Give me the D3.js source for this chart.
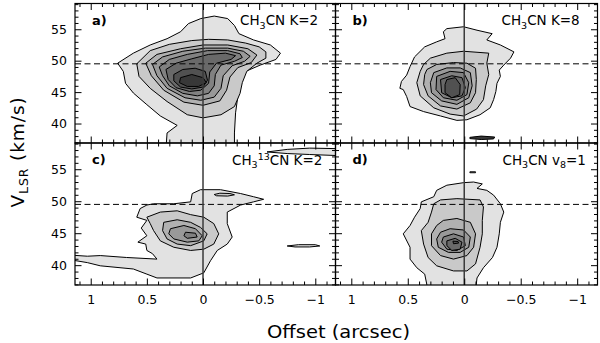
<!DOCTYPE html>
<html>
<head>
<meta charset="utf-8">
<script src="https://cdn.jsdelivr.net/npm/d3@7"></script>
<style>
body { margin: 0; background: #fff; }
text { font-family: "DejaVu Sans", sans-serif; }
</style>
</head>
<body>
<svg id="chart" width="600" height="343"></svg>
<script>
// axis values
var offsetDomain = [1.14, -1.18];
var velocityDomain = [36.9, 59.1];
var xMajorTicks = [1, 0.5, 0, -0.5, -1];
var xTickLabels = ["1", "0.5", "0", "\u22120.5", "\u22121"];
var yMajorTicks = [40, 45, 50, 55];
var vSystemic = 49.5;
var offsetCentre = 0;

// contour levels, lowest first, points are [offset (arcsec), velocity (km/s)]
var contoursA = [
  [[0.33,36.0],[0.32,38.5],[0.23,39.7],[0.38,41.2],[0.50,43.0],[0.62,44.85],[0.69,46.4],[0.71,48.3],[0.76,49.6],[0.62,51.2],[0.47,52.5],[0.32,53.5],[0.20,54.6],[0.13,55.9],[0.02,56.7],[-0.10,57.1],[-0.22,56.7],[-0.28,55.6],[-0.32,54.3],[-0.45,53.3],[-0.60,52.5],[-0.69,51.2],[-0.65,50.2],[-0.51,49.3],[-0.38,48.3],[-0.32,47.0],[-0.31,44.3],[-0.29,41.7],[-0.28,38.5],[-0.28,36.0]],
  [[0.59,49.5],[0.47,51.6],[0.30,52.6],[0.10,53.2],[-0.05,53.4],[-0.22,53.3],[-0.38,52.8],[-0.50,52.2],[-0.56,51.4],[-0.56,50.4],[-0.48,49.6],[-0.39,48.3],[-0.35,46.5],[-0.33,44.8],[-0.28,42.7],[-0.16,41.4],[0.0,40.9],[0.14,41.4],[0.32,43.5],[0.47,45.6],[0.57,47.5]],
  [[0.51,49.6],[0.41,51.0],[0.2,51.9],[0.0,52.5],[-0.22,52.5],[-0.40,51.9],[-0.48,50.9],[-0.43,49.7],[-0.31,48.9],[-0.24,47.4],[-0.21,45.3],[-0.15,43.6],[0.0,42.9],[0.17,43.4],[0.35,45.3],[0.46,47.6]],
  [[0.45,49.4],[0.36,50.6],[0.18,51.5],[-0.02,52.0],[-0.22,52.0],[-0.36,51.5],[-0.42,50.7],[-0.37,49.9],[-0.26,49.2],[-0.18,47.6],[-0.16,45.6],[-0.1,44.2],[0.02,43.7],[0.16,44.1],[0.32,45.6],[0.41,47.6]],
  [[0.39,49.0],[0.3,50.2],[0.14,51.0],[-0.04,51.6],[-0.22,51.6],[-0.33,51.1],[-0.35,50.5],[-0.28,49.9],[-0.16,49.3],[-0.11,47.8],[-0.10,46.0],[-0.05,44.8],[0.05,44.4],[0.18,44.8],[0.3,46.0],[0.36,47.6]],
  [[0.33,48.6],[0.24,49.6],[0.10,50.3],[-0.05,51.0],[-0.2,51.2],[-0.29,50.8],[-0.25,50.2],[-0.12,49.6],[-0.06,48.2],[-0.05,46.4],[0.02,45.3],[0.12,45.1],[0.24,45.7],[0.31,47.0]],
  [[0.26,47.8],[0.18,48.6],[0.07,48.8],[-0.02,48.3],[-0.04,46.9],[0.0,45.8],[0.1,45.5],[0.2,45.8],[0.26,46.8]],
  [[0.2,47.3],[0.1,47.8],[0.0,47.3],[-0.03,46.5],[0.04,45.9],[0.14,45.9],[0.21,46.5]]
];
var contoursB = [
  [[0.185,54.6],[0.154,55.1],[0.006,55.4],[-0.113,54.85],[-0.247,54.3],[-0.2,53.3],[-0.32,52.5],[-0.44,51.4],[-0.41,50.4],[-0.35,49.3],[-0.31,48.5],[-0.32,47.5],[-0.29,46.4],[-0.28,45.1],[-0.26,43.8],[-0.23,42.5],[-0.14,41.4],[-0.024,40.6],[0.065,40.5],[0.21,41.2],[0.36,41.9],[0.48,42.7],[0.51,44.3],[0.54,45.4],[0.57,45.6],[0.556,46.7],[0.51,47.7],[0.48,49.05],[0.44,50.6],[0.35,52.2],[0.244,53.0],[0.17,53.5]],
  [[0.36,49.4],[0.30,50.4],[0.154,51.2],[0.006,51.5],[-0.217,51.2],[-0.2,49.6],[-0.217,47.8],[-0.19,46.0],[-0.17,43.8],[-0.11,42.3],[0.006,41.2],[0.125,41.5],[0.27,42.5],[0.39,44.4],[0.42,46.5],[0.39,48.3]],
  [[0.33,48.6],[0.244,49.4],[0.095,49.7],[-0.024,49.6],[-0.1,48.8],[-0.107,47.0],[-0.1,44.9],[-0.054,43.3],[0.065,42.3],[0.21,42.8],[0.32,44.4],[0.36,46.2],[0.35,47.8]],
  [[0.27,48.1],[0.154,48.85],[0.036,48.85],[-0.054,48.1],[-0.07,46.0],[-0.04,44.1],[0.065,43.05],[0.2,43.6],[0.29,44.9],[0.30,46.5]],
  [[0.244,47.5],[0.125,48.3],[0.006,48.1],[-0.04,46.5],[-0.024,44.6],[0.065,43.7],[0.185,44.1],[0.25,45.4]],
  [[0.21,47.0],[0.11,47.6],[0.02,47.3],[-0.01,45.7],[0.02,44.4],[0.11,44.1],[0.2,44.9]],
  [[0.154,47.0],[0.08,47.3],[0.036,46.2],[0.04,44.6],[0.11,44.1],[0.17,44.9],[0.17,46.2]]
];
var contoursC = [
  [[1.2,41.6],[1.03,41.4],[0.915,41.5],[0.68,41.2],[0.41,40.95],[0.45,41.8],[0.50,42.3],[0.51,43.3],[0.58,43.6],[0.50,44.6],[0.55,45.8],[0.50,47.0],[0.59,47.5],[0.56,48.85],[0.50,49.4],[0.44,49.6],[0.26,49.6],[0.11,49.9],[0.096,51.2],[0.022,51.8],[-0.156,51.8],[-0.335,51.2],[-0.45,50.7],[-0.54,50.3],[-0.45,49.9],[-0.335,49.4],[-0.216,48.3],[-0.216,46.5],[-0.26,44.4],[-0.216,43.3],[-0.127,42.3],[-0.067,40.7],[-0.007,38.8],[0.11,38.0],[0.41,38.0],[0.50,38.6],[0.62,39.4],[0.915,39.9],[1.03,40.4],[1.2,40.9]],
  [[0.50,47.5],[0.38,48.3],[0.23,48.5],[0.11,47.9],[-0.007,47.5],[-0.096,46.5],[-0.14,44.9],[-0.096,43.3],[-0.007,42.5],[0.11,42.3],[0.26,42.8],[0.38,43.8],[0.44,45.4],[0.47,46.5]],
  [[0.35,46.7],[0.23,47.1],[0.11,46.7],[0.022,45.9],[-0.037,44.9],[-0.007,43.8],[0.11,43.05],[0.23,43.3],[0.32,44.1],[0.36,45.4]],
  [[0.29,45.7],[0.17,46.2],[0.067,45.7],[0.007,44.6],[0.037,43.8],[0.14,43.6],[0.26,44.1],[0.305,44.9]],
  [[0.156,45.15],[0.067,45.0],[0.052,44.4],[0.14,44.2],[0.17,44.6]]
];
var contoursD = [
  [[0.32,36.0],[0.35,38.6],[0.42,39.6],[0.48,40.95],[0.48,42.8],[0.54,44.9],[0.48,46.2],[0.44,47.5],[0.39,48.85],[0.38,49.9],[0.27,50.7],[0.244,51.7],[0.154,52.5],[0.006,52.9],[-0.083,53.0],[-0.16,52.7],[-0.113,52.0],[-0.2,51.7],[-0.26,50.95],[-0.32,49.6],[-0.35,48.3],[-0.32,46.7],[-0.31,44.9],[-0.29,42.8],[-0.25,41.2],[-0.17,39.6],[-0.113,38.0],[-0.1,36.0]],
  [[0.27,49.6],[0.21,50.2],[0.065,50.4],[-0.14,50.2],[-0.17,49.1],[-0.16,47.0],[-0.16,44.9],[-0.14,42.8],[-0.1,40.2],[-0.024,39.1],[0.095,39.1],[0.244,39.9],[0.32,41.2],[0.36,43.3],[0.38,45.4],[0.32,46.7],[0.29,48.3]],
  [[0.185,47.0],[0.065,47.3],[-0.054,46.7],[-0.1,44.9],[-0.083,42.8],[-0.024,41.5],[0.095,40.95],[0.21,41.5],[0.29,43.05],[0.29,44.9],[0.244,46.2]],
  [[0.21,45.15],[0.125,45.7],[0.006,45.5],[-0.054,44.4],[-0.04,42.8],[0.036,42.0],[0.14,42.0],[0.23,42.8],[0.244,44.1]],
  [[0.185,44.4],[0.095,44.9],[0.006,44.4],[-0.01,43.05],[0.065,42.3],[0.154,42.5],[0.2,43.6]],
  [[0.154,43.8],[0.08,44.2],[0.02,43.6],[0.036,42.5],[0.11,42.3],[0.154,43.05]],
  [[0.1,43.75],[0.055,43.7],[0.05,43.45],[0.095,43.35]]
];
// small separate islands: [level index, points]
var islandsB = [
  [7, [[-0.05,37.8],[-0.15,38.0],[-0.27,37.85],[-0.26,37.55],[-0.15,37.45],[-0.05,37.6]]]
];
var islandsC = [
  [1, [[-0.1,51.05],[-0.15,51.25],[-0.24,51.2],[-0.28,51.0],[-0.22,50.8],[-0.12,50.85]]],
  [0, [[-0.75,43.0],[-0.85,43.2],[-1.0,43.2],[-1.04,43.0],[-0.95,42.85],[-0.82,42.85]]],
  [0, [[-0.57,57.7],[-0.75,58.1],[-0.95,58.3],[-1.25,58.2],[-1.25,57.1],[-0.95,57.3],[-0.75,57.45]]]
];
var islandsD = [
  [0, [[-0.05,54.6],[-0.1,54.6],[-0.1,54.45],[-0.05,54.45]]]
];

var levelFills = ["#e2e2e2", "#c9c9c9", "#b1b1b1", "#999999", "#818181", "#696969", "#515151", "#383838"];

var panels = [
  {name: "a", col: 0, row: 0, contours: contoursA, islands: [],
   title: [["CH", 0], ["3", 1], ["CN K=2", 0]], titleX: 165},
  {name: "b", col: 1, row: 0, contours: contoursB, islands: islandsB,
   title: [["CH", 0], ["3", 1], ["CN K=8", 0]], titleX: 166},
  {name: "c", col: 0, row: 1, contours: contoursC, islands: islandsC,
   title: [["CH", 0], ["3", 1], ["13", 2], ["CN K=2", 0]], titleX: 157},
  {name: "d", col: 1, row: 1, contours: contoursD, islands: islandsD,
   title: [["CH", 0], ["3", 1], ["CN v", 0], ["8", 1], ["=1", 0]], titleX: 167}
];

var svg = d3.select("#chart");
var colEdges = [75, 335.5, 597.5];
var rowEdges = [3.5, 143, 285];

var minorX = d3.range(-11, 12).map(function(i){ return i / 10; })
  .filter(function(d){ return Math.abs(d * 2 - Math.round(d * 2)) > 1e-6; });
var minorY = d3.range(37, 60).filter(function(d){ return d % 5 !== 0; });

function styleAxis(g) {
  g.select(".domain").remove();
  g.attr("font-family", "DejaVu Sans, sans-serif").attr("font-size", 12.5);
  g.selectAll(".tick line").attr("stroke", "#000");
  g.selectAll(".tick text").attr("fill", "#000");
}

function drawPanel(p) {
  var x0 = colEdges[p.col], x1 = colEdges[p.col + 1];
  var y0 = rowEdges[p.row], y1 = rowEdges[p.row + 1];
  var x = d3.scaleLinear().domain(offsetDomain).range([x0, x1]);
  var y = d3.scaleLinear().domain(velocityDomain).range([y1, y0]);
  var line = d3.line().x(function(d){ return x(d[0]); }).y(function(d){ return y(d[1]); });

  svg.append("clipPath").attr("id", "clip-" + p.name)
    .append("rect").attr("x", x0).attr("y", y0).attr("width", x1 - x0).attr("height", y1 - y0);

  var body = svg.append("g").attr("clip-path", "url(#clip-" + p.name + ")");

  //filled contours, lowest level first so the peaks sit on top
  p.contours.forEach(function(ring, i){
    body.append("path")
      .attr("d", line(ring) + "Z")
      .attr("fill", levelFills[i])
      .attr("stroke", "#000")
      .attr("stroke-width", 1)
      .attr("stroke-linejoin", "round");
  });
  p.islands.forEach(function(isl){
    body.append("path")
      .attr("d", line(isl[1]) + "Z")
      .attr("fill", levelFills[isl[0]])
      .attr("stroke", "#000")
      .attr("stroke-width", 1);
  });

  //systemic velocity and zero offset
  body.append("line")
    .attr("x1", x0).attr("x2", x1)
    .attr("y1", y(vSystemic)).attr("y2", y(vSystemic))
    .attr("stroke", "#000").attr("stroke-width", 1)
    .attr("stroke-dasharray", "6,3.5");
  body.append("line")
    .attr("x1", x(offsetCentre)).attr("x2", x(offsetCentre))
    .attr("y1", y0).attr("y2", y1)
    .attr("stroke", "#3a3a3a").attr("stroke-width", 1.5);

  //ticks on all four sides, pointing in
  svg.append("g").attr("transform", "translate(0," + y1 + ")")
    .call(d3.axisBottom(x).tickValues(minorX).tickSizeInner(-3.5).tickSizeOuter(0).tickFormat(""))
    .call(styleAxis);
  svg.append("g").attr("transform", "translate(0," + y0 + ")")
    .call(d3.axisTop(x).tickValues(minorX).tickSizeInner(-3.5).tickSizeOuter(0).tickFormat(""))
    .call(styleAxis);
  svg.append("g").attr("transform", "translate(0," + y0 + ")")
    .call(d3.axisTop(x).tickValues(xMajorTicks).tickSizeInner(-6.5).tickSizeOuter(0).tickFormat(""))
    .call(styleAxis);
  svg.append("g").attr("transform", "translate(0," + y1 + ")")
    .call(d3.axisBottom(x).tickValues(xMajorTicks).tickSizeInner(-6.5).tickSizeOuter(0).tickPadding(10)
      .tickFormat(function(d, i){ return p.row === 1 ? xTickLabels[i] : ""; }))
    .call(styleAxis);

  svg.append("g").attr("transform", "translate(" + x0 + ",0)")
    .call(d3.axisLeft(y).tickValues(minorY).tickSizeInner(-3.5).tickSizeOuter(0).tickFormat(""))
    .call(styleAxis);
  svg.append("g").attr("transform", "translate(" + x1 + ",0)")
    .call(d3.axisRight(y).tickValues(minorY).tickSizeInner(-3.5).tickSizeOuter(0).tickFormat(""))
    .call(styleAxis);
  svg.append("g").attr("transform", "translate(" + x1 + ",0)")
    .call(d3.axisRight(y).tickValues(yMajorTicks).tickSizeInner(-6.5).tickSizeOuter(0).tickFormat(""))
    .call(styleAxis);
  svg.append("g").attr("transform", "translate(" + x0 + ",0)")
    .call(d3.axisLeft(y).tickValues(yMajorTicks).tickSizeInner(-6.5).tickSizeOuter(0).tickPadding(8)
      .tickFormat(function(d){ return p.col === 0 ? d : ""; }))
    .call(styleAxis);

  svg.append("rect")
    .attr("x", x0).attr("y", y0).attr("width", x1 - x0).attr("height", y1 - y0)
    .attr("fill", "none").attr("stroke", "#000").attr("stroke-width", 1.2);

  svg.append("text")
    .attr("x", x0 + 17).attr("y", y0 + 21)
    .attr("font-size", 13).attr("font-weight", "bold")
    .text(p.name + ")");

  var t = svg.append("text")
    .attr("x", x0 + p.titleX).attr("y", y0 + 21.5)
    .attr("font-size", 13.5);
  var shift = 0;
  p.title.forEach(function(part){
    var want = part[1] === 1 ? 3.5 : (part[1] === 2 ? -5 : 0);
    t.append("tspan")
      .attr("dy", want - shift)
      .attr("font-size", part[1] ? 9.5 : 13.5)
      .text(part[0]);
    shift = want;
  });
}

panels.forEach(drawPanel);

//axis titles
svg.append("text")
  .attr("x", 338.5).attr("y", 338)
  .attr("text-anchor", "middle")
  .attr("font-size", 18.5)
  .attr("textLength", 143).attr("lengthAdjust", "spacingAndGlyphs")
  .text("Offset (arcsec)");

var yt = svg.append("text")
  .attr("transform", "translate(24,152) rotate(-90)")
  .attr("text-anchor", "middle")
  .attr("font-size", 18.5)
  .attr("letter-spacing", 0.9);
yt.append("tspan").text("V");
yt.append("tspan").attr("dy", 4).attr("font-size", 12.5).text("LSR");
yt.append("tspan").attr("dy", -4).text(" (km/s)");
</script>
</body>
</html>
